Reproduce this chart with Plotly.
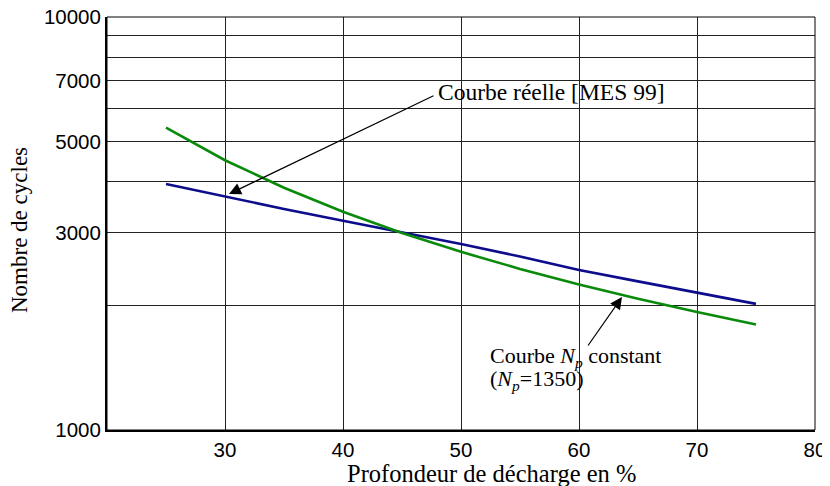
import plotly.graph_objects as go

# Data
dod = [25, 30, 35, 40, 45, 50, 55, 60, 65, 70, 75]
cycles_reel = [3940, 3670, 3430, 3210, 3010, 2820, 2630, 2440, 2290, 2150, 2020]
cycles_np = [5400, 4500, 3860, 3375, 3000, 2700, 2455, 2250, 2080, 1930, 1800]

y_tickvals = [1000, 2000, 3000, 4000, 5000, 6000, 7000, 8000, 9000, 10000]
y_ticktext = ["1000", "", "3000", "", "5000", "", "7000", "", "", "10000"]
x_tickvals = [30, 40, 50, 60, 70, 80]
x_ticktext = ["30", "40", "50", "60", "70", "80"]

serif = "Liberation Serif, Times New Roman, serif"
sans = "Liberation Sans, Arial, sans-serif"

# page body has an 8px margin: compensate
OFF = 8
L, R, T, B = 107, 815, 17, 430  # plot area in window pixels
W, H = 822, 478
PW, PH = R - L, B - T


def px(xw):
    return (xw - L) / PW


def py(yw):
    return (B - yw) / PH


fig = go.Figure()
fig.add_trace(go.Scatter(x=dod, y=cycles_reel, mode="lines",
                         line=dict(color="#0c0c8c", width=2.6), showlegend=False))
fig.add_trace(go.Scatter(x=dod, y=cycles_np, mode="lines",
                         line=dict(color="#0a8a0a", width=2.6), showlegend=False))

fig.update_layout(
    width=W, height=H,
    margin=dict(l=L - OFF, r=W - (R - OFF), t=T - OFF, b=H - (B - OFF), autoexpand=False),
    paper_bgcolor="white", plot_bgcolor="white",
    showlegend=False,
    xaxis=dict(range=[20, 80], tickvals=x_tickvals, ticktext=x_ticktext,
               showgrid=True, gridcolor="#222", gridwidth=1,
               showline=True, linecolor="black", linewidth=2,
               ticks="", automargin=False, ticklabeloverflow="allow",
               tickfont=dict(family=sans, size=20.5, color="black"),
               zeroline=False),
    yaxis=dict(type="log", range=[3, 4], tickvals=y_tickvals, ticktext=y_ticktext,
               showgrid=True, gridcolor="#222", gridwidth=1,
               showline=True, linecolor="black", linewidth=2,
               ticks="", ticklabelstandoff=0, automargin=False,
               ticklabeloverflow="allow",
               tickfont=dict(family=sans, size=20.5, color="black"),
               zeroline=False),
)

# border (top/right)
fig.add_shape(type="rect", xref="paper", yref="paper", x0=0, y0=0, x1=1, y1=1,
              line=dict(color="black", width=1), layer="above")

# axis titles
fig.add_annotation(xref="paper", yref="paper", x=px(492), y=py(473),
                   text="Profondeur de décharge en %", showarrow=False,
                   font=dict(family=serif, size=24.5, color="black"),
                   xanchor="center", yanchor="middle")
fig.add_annotation(xref="paper", yref="paper", x=px(19), y=py(230),
                   text="Nombre de cycles", showarrow=False, textangle=-90,
                   font=dict(family=serif, size=23, color="black"),
                   xanchor="center", yanchor="middle")

# curve labels
fig.add_annotation(xref="paper", yref="paper", x=px(436), y=py(92),
                   text="Courbe réelle [MES 99]", showarrow=False,
                   font=dict(family=serif, size=23.5, color="black"),
                   xanchor="left", yanchor="middle")
fig.add_annotation(xref="paper", yref="paper", x=px(488), y=py(357),
                   text="Courbe <i>N<sub>p</sub></i> constant", showarrow=False,
                   font=dict(family=serif, size=22, color="black"),
                   xanchor="left", yanchor="middle")
fig.add_annotation(xref="paper", yref="paper", x=px(488), y=py(380),
                   text="(<i>N<sub>p</sub></i>=1350)", showarrow=False,
                   font=dict(family=serif, size=22, color="black"),
                   xanchor="left", yanchor="middle")

# arrows
fig.add_annotation(xref="paper", yref="paper", x=px(229), y=py(194),
                   ax=206, ay=-99, text="", showarrow=True,
                   arrowhead=2, arrowsize=2.0, arrowwidth=1.2, arrowcolor="black")
fig.add_annotation(xref="paper", yref="paper", x=px(622), y=py(297),
                   ax=-35, ay=50, text="", showarrow=True,
                   arrowhead=2, arrowsize=2.0, arrowwidth=1.2, arrowcolor="black")

fig.write_html("out.html")
